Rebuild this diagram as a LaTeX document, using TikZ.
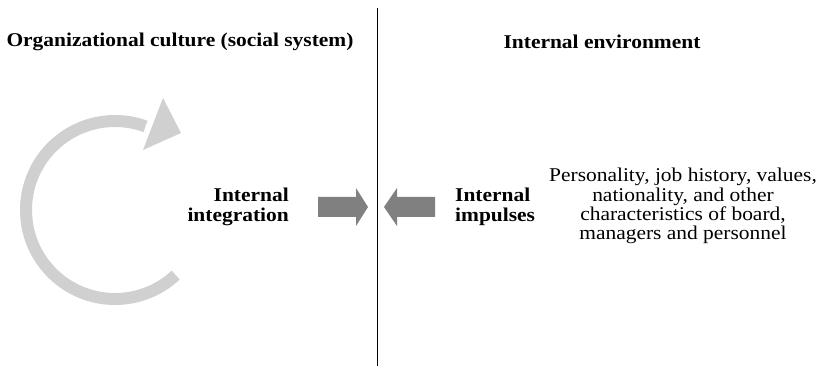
\documentclass[tikz,border=0pt]{standalone}
\usepackage{fontspec}
\setmainfont[FakeStretch=1.1]{Liberation Serif}
\definecolor{ringgray}{HTML}{D0D0D0}
\definecolor{blockgray}{HTML}{808080}
\begin{document}
\begin{tikzpicture}[x=1pt,y=-1pt,
  title/.style={font=\fontsize{19.5}{19.5}\selectfont\bfseries, inner sep=0pt, anchor=center},
  lab/.style={font=\fontsize{19.5}{19.5}\selectfont\bfseries, inner sep=0pt},
  para/.style={font=\fontsize{19.5}{19.3}\selectfont, inner sep=0pt, align=center},
  block/.style={fill=blockgray, draw=none}]
\useasboundingbox (0,0) rectangle (822,366);
\fill[white] (0,0) rectangle (822,366);
% divider
\coordinate (top) at (377,8);
\coordinate (bot) at (377,366);
\draw[line width=0.9pt] (top) -- (bot);
% titles
\node[title] (lt) at (180,42) {Organizational culture (social system)};
\node[title] (rt) at (602,42) {Internal environment};
% ring arrow
\draw[ringgray, line width=12pt] (115,210) ++(47:89) arc[start angle=47, end angle=290, radius=89];
\fill[ringgray] (143,150) -- (163,98) -- (181,133) -- cycle;
% labels
\node[lab, align=right, anchor=east] (ii) at (289,207) {Internal\\integration};
\node[lab, align=left, anchor=west] (ip) at (455,207) {Internal\\impulses};
\node[para] (pp) at (683,206) {Personality, job history, values,\\nationality, and other\\characteristics of board,\\managers and personnel};
% block arrows
\fill[block] (318,197) -- (356,197) -- (356,188) -- (368,207) -- (356,226) -- (356,217) -- (318,217) -- cycle;
\fill[block] (435,197) -- (397,197) -- (397,188) -- (384,207) -- (397,226) -- (397,217) -- (435,217) -- cycle;
\end{tikzpicture}
\end{document}
